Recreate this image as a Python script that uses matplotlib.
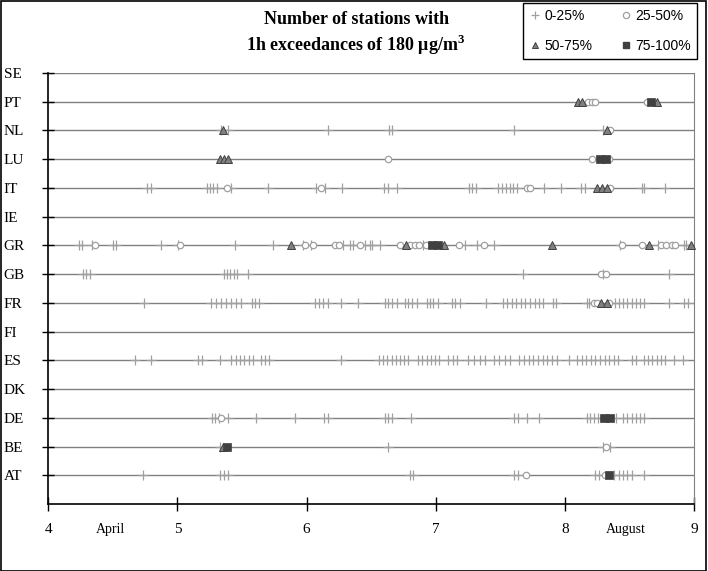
import matplotlib
matplotlib.use("Agg")
import matplotlib.pyplot as plt
from matplotlib.lines import Line2D
from matplotlib.patches import Rectangle

plt.rcParams['mathtext.fontset'] = 'custom'
plt.rcParams['mathtext.rm'] = 'Liberation Serif'
plt.rcParams['mathtext.bf'] = 'Liberation Serif:bold'

countries = ['AT', 'BE', 'DE', 'DK', 'ES', 'FI', 'FR', 'GB', 'GR', 'IE', 'IT', 'LU', 'NL', 'PT', 'SE']
month_ticks = [4, 5, 6, 7, 8, 9]
month_names = ['April', 'August']
month_name_pos = [4.48, 8.47]

# stations with 1h exceedances, class 0-25 %
plus_0_25 = {
    'AT': [4.736, 5.330, 5.361, 5.394, 6.802, 6.827, 7.607, 7.641, 8.235, 8.266, 8.382, 8.423,
           8.454, 8.485, 8.519, 8.609],
    'BE': [5.330, 6.634, 8.299, 8.351],
    'DE': [5.268, 5.294, 5.325, 5.392, 5.611, 5.909, 6.136, 6.167, 6.608, 6.634, 6.665, 6.807,
           7.607, 7.641, 7.710, 7.803, 8.170, 8.196, 8.227, 8.260, 8.395, 8.454, 8.485, 8.519,
           8.550, 8.578, 8.609],
    'ES': [4.669, 4.798, 5.160, 5.191, 5.328, 5.418, 5.452, 5.485, 5.518, 5.552, 5.583, 5.645,
           5.676, 5.707, 6.270, 6.562, 6.594, 6.626, 6.658, 6.690, 6.722, 6.754, 6.786, 6.864,
           6.896, 6.929, 6.961, 6.994, 7.026, 7.098, 7.133, 7.168, 7.253, 7.296, 7.340, 7.383,
           7.452, 7.493, 7.535, 7.576, 7.646, 7.683, 7.719, 7.756, 7.792, 7.829, 7.865, 7.902,
           7.938, 8.033, 8.093, 8.129, 8.165, 8.201, 8.236, 8.272, 8.308, 8.343, 8.379, 8.415,
           8.519, 8.550, 8.609, 8.643, 8.676, 8.710, 8.743, 8.777, 8.847, 8.911],
    'FR': [4.739, 5.263, 5.301, 5.339, 5.377, 5.415, 5.453, 5.490, 5.578, 5.603, 5.630, 6.064,
           6.097, 6.130, 6.167, 6.270, 6.399, 6.608, 6.634, 6.660, 6.699, 6.763, 6.789, 6.815,
           6.854, 6.931, 6.957, 6.982, 7.021, 7.125, 7.150, 7.189, 7.388, 7.520, 7.555, 7.590,
           7.625, 7.660, 7.695, 7.730, 7.765, 7.800, 7.834, 7.907, 7.933, 8.170, 8.188, 8.390,
           8.421, 8.454, 8.485, 8.519, 8.550, 8.578, 8.609, 8.810, 8.919, 8.957],
    'GB': [4.269, 4.294, 4.321, 5.359, 5.384, 5.410, 5.436, 5.462, 5.549, 7.672, 8.299, 8.810],
    'GR': [4.235, 4.261, 4.341, 4.501, 4.527, 4.871, 5.005, 5.449, 5.743, 5.973, 6.033, 6.283,
           6.335, 6.360, 6.451, 6.490, 6.505, 6.569, 6.902, 7.228, 7.323, 7.455, 8.428, 8.725,
           8.919, 8.940],
    'IT': [4.767, 4.793, 5.227, 5.253, 5.278, 5.307, 5.413, 5.702, 6.074, 6.143, 6.273, 6.602,
           6.629, 6.703, 7.258, 7.284, 7.310, 7.486, 7.512, 7.543, 7.576, 7.602, 7.628, 7.840,
           7.969, 8.124, 8.157, 8.597, 8.615, 8.777],
    'NL': [5.334, 5.392, 6.167, 6.639, 6.662, 7.607, 8.297],
}

# class 25-50 %
circ_25_50 = {
    'AT': [7.698, 8.312],
    'BE': [8.318],
    'DE': [5.340],
    'FR': [8.222, 8.248, 8.338],
    'GB': [8.279, 8.318],
    'GR': [4.362, 5.022, 5.991, 6.050, 6.218, 6.252, 6.412, 6.724, 6.802, 6.840, 6.871, 6.926,
           7.181, 7.377, 8.446, 8.596, 8.744, 8.782, 8.829, 8.854],
    'IT': [5.382, 6.110, 7.706, 7.731, 8.346],
    'LU': [6.630, 8.211, 8.340],
    'NL': [8.347],
    'PT': [8.180, 8.211, 8.234, 8.638],
}

# class 50-75 %
tri_50_75 = {
    'BE': [5.356],
    'FR': [8.279, 8.325],
    'GR': [5.878, 6.768, 7.065, 7.904, 8.648, 8.976],
    'IT': [8.248, 8.287, 8.326],
    'LU': [5.331, 5.362, 5.392],
    'NL': [5.353, 8.328],
    'PT': [8.103, 8.134, 8.715],
}

# class 75-100 %
sq_75_100 = {
    'AT': [8.338],
    'BE': [5.384],
    'DE': [8.304, 8.351],
    'GR': [6.972, 7.019],
    'LU': [8.273, 8.320],
    'PT': [8.669],
}

serif = ['Liberation Serif', 'DejaVu Serif']
sans = ['Liberation Sans', 'DejaVu Sans']

fig = plt.figure(figsize=(7.08, 5.71), dpi=100)
ax = fig.add_axes([48.3 / 708, 1 - 504 / 571, (694 - 48.3) / 708, (504 - 73) / 571])

ypos = {c: i + 1 for i, c in enumerate(countries)}

grey_light = '#a0a0a0'
styles = [
    (plus_0_25, dict(marker='+', linestyle='none', color=grey_light, markersize=6.5,
                     markeredgewidth=0.9, zorder=3)),
    (circ_25_50, dict(marker='o', linestyle='none', markerfacecolor='white', markeredgecolor='#a0a0a0',
                      markersize=4.6, markeredgewidth=0.9, zorder=4)),
    (tri_50_75, dict(marker='^', linestyle='none', markerfacecolor='#808080', markeredgecolor='#404040',
                     markersize=5.5, markeredgewidth=0.7, zorder=5)),
    (sq_75_100, dict(marker='s', linestyle='none', markerfacecolor='#404040', markeredgecolor='#404040',
                     markersize=5.2, markeredgewidth=0.5, zorder=6)),
]
for data, st in styles:
    for c, xs in data.items():
        ax.plot(xs, [ypos[c]] * len(xs), clip_on=False, **st)

ax.set_xlim(4, 9)
ax.set_ylim(0, 15)
ax.set_yticks(range(1, 16))
ax.set_yticklabels(countries, fontfamily=serif, fontsize=11, ha='left')
ax.set_xticks(month_ticks)
ax.set_xticklabels([str(m) for m in month_ticks], fontfamily=serif, fontsize=11)
ax.set_xticks(month_name_pos, minor=True)
ax.set_xticklabels(month_names, minor=True, fontfamily=serif, fontsize=10)
ax.tick_params(axis='x', which='minor', length=0, pad=14)
ax.tick_params(axis='x', which='major', direction='inout', length=10, width=1, color='black', pad=9)
ax.tick_params(axis='y', direction='inout', length=8, width=1, color='black', pad=28)

ax.grid(axis='y', color='#808080', linewidth=1)
ax.set_axisbelow(True)
ax.spines['top'].set_visible(False)
ax.spines['right'].set_color('#808080')
ax.spines['left'].set_color('black')
ax.spines['bottom'].set_color('black')
ax.spines['left'].set_linewidth(1.2)
ax.spines['bottom'].set_linewidth(1.2)

fig.text(0.503, 1 - 19 / 571, 'Number of stations with', ha='center', va='center',
         fontfamily=serif, fontsize=13, fontweight='bold')
fig.text(0.503, 1 - 45 / 571, r'1h exceedances of 180 μg/m$^\mathbf{3}$', ha='center', va='center',
         fontfamily=serif, fontsize=13, fontweight='bold')

handles = [
    Line2D([], [], marker='+', linestyle='none', color=grey_light, markersize=6, markeredgewidth=0.9),
    Line2D([], [], marker='^', linestyle='none', markerfacecolor='#808080', markeredgecolor='#404040',
           markersize=5, markeredgewidth=0.7),
    Line2D([], [], marker='o', linestyle='none', markerfacecolor='white', markeredgecolor='#a0a0a0',
           markersize=4.5, markeredgewidth=0.9),
    Line2D([], [], marker='s', linestyle='none', markerfacecolor='#404040', markeredgecolor='#404040',
           markersize=5),
]
labels = ['0-25%', '50-75%', '25-50%', '75-100%']
leg = fig.legend(handles, labels, ncol=2, loc='upper left',
                 bbox_to_anchor=(523 / 708, 1 - 3 / 571), frameon=True, fancybox=False,
                 edgecolor='black', framealpha=1, prop={'family': sans, 'size': 10},
                 handlelength=0.8, handletextpad=0.3, columnspacing=2.0, labelspacing=1.1,
                 borderpad=0.45, borderaxespad=0)
leg.get_frame().set_linewidth(1)

fig.add_artist(Rectangle((0.5 / 708, 0.5 / 571), 705 / 708, 1 - 1.5 / 571, transform=fig.transFigure,
                         fill=False, edgecolor='black', linewidth=1.2))

fig.savefig('out.png', dpi=100)
